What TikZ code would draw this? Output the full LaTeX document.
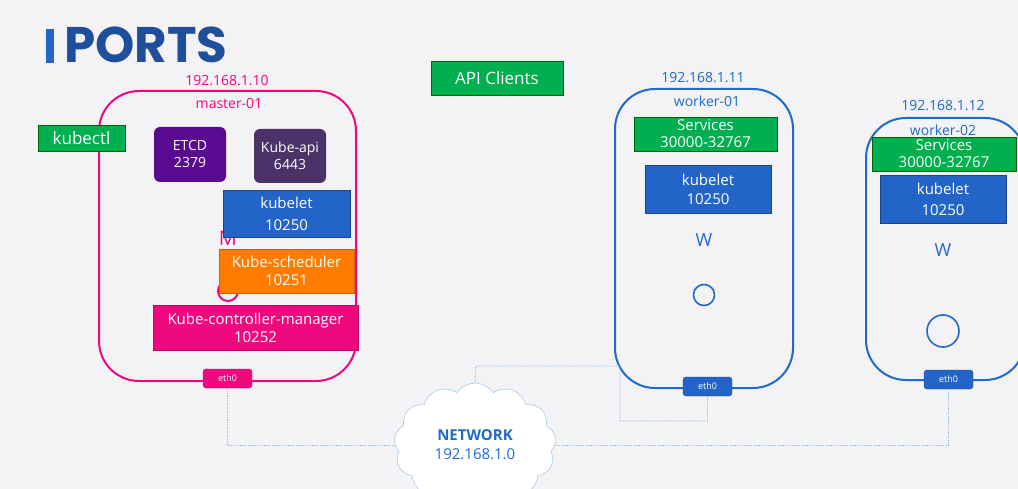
\documentclass[tikz,border=0pt]{standalone}
\usepackage{fontspec}
\setmainfont{Open Sans}
\newfontfamily\titlefont{Poppins}
\usetikzlibrary{shapes.symbols}
\definecolor{bg}{HTML}{F3F3F5}
\definecolor{mpink}{HTML}{F0087F}
\definecolor{wblue}{HTML}{1F6ACB}
\definecolor{kblue}{HTML}{2364C8}
\definecolor{sgreen}{HTML}{00B050}
\definecolor{etcdpurple}{HTML}{5A0A90}
\definecolor{apipurple}{HTML}{4B3369}
\definecolor{sorange}{HTML}{FF7C00}
\definecolor{titleblue}{HTML}{1F4E9A}
\definecolor{netblue}{HTML}{8DB8E4}
\begin{document}
\begin{tikzpicture}[x=1pt,y=-1pt,
  box/.style={rectangle,text=white,align=center,inner sep=0pt,font=\fontsize{14}{17}\selectfont},
  node host/.style={rectangle,rounded corners=40pt,line width=2pt,inner sep=0pt},
  eth/.style={rectangle,rounded corners=3pt,text=white,inner sep=0pt,minimum width=49pt,minimum height=19pt,font=\fontsize{9}{10}\selectfont},
  netline/.style={netblue,line width=0.8pt,dash pattern=on 1.2pt off 1.2pt}]
\useasboundingbox[fill=bg] (0,0) rectangle (1018,489);

% title
\node[fill=kblue,minimum width=8pt,minimum height=34pt,inner sep=0pt] (BAR) at (50,46) {};
\node[anchor=base west,inner sep=0pt,text depth=0pt,text=titleblue,font=\titlefont\bfseries\fontsize{50}{50}\selectfont] (TITLE) at (64,63) {PORTS};

% master
\node[node host,draw=mpink,minimum width=257pt,minimum height=290pt] (M) at (227.5,236) {};
\node[text=mpink,font=\fontsize{14}{16}\selectfont] (MIP) at (227,81) {192.168.1.10};
\node[text=mpink,font=\fontsize{14}{16}\selectfont] (MNAME) at (229,103) {master-01};
\node[text=mpink,font=\fontsize{20}{20}\selectfont] (MLETTER) at (228,238) {M};
\node[draw=mpink,circle,line width=2pt,minimum size=20pt,inner sep=0pt] (MDOT) at (228,291) {};
\node[box,fill=sgreen,draw=green!40!black,minimum width=87pt,minimum height=26pt,font=\fontsize{17}{20}\selectfont] (KCTL) at (81.5,138) {kubectl};
\node[box,fill=etcdpurple,rounded corners=6pt,minimum width=72pt,minimum height=55pt] (ETCD) at (190,154.5) {ETCD\\2379};
\node[box,fill=apipurple,rounded corners=6pt,minimum width=72pt,minimum height=54pt] (API) at (290,156) {Kube-api\\6443};
\node[box,fill=kblue,draw=kblue!70!black,minimum width=127pt,minimum height=47pt,font=\fontsize{15}{22}\selectfont] (MKLT) at (286.5,213.5) {kubelet\\10250};
\node[box,fill=sorange,draw=sorange!80!black,minimum width=135pt,minimum height=44pt,font=\fontsize{15}{18}\selectfont] (SCHED) at (286.5,271) {Kube-scheduler\\10251};
\node[box,fill=mpink,draw=mpink!80!black,minimum width=205pt,minimum height=45pt,font=\fontsize{15}{18}\selectfont] (CM) at (255.5,327.5) {Kube-controller-manager\\10252};
\node[eth,fill=mpink,draw=mpink!80!black] (METH) at (227.5,378.5) {eth0};

% clients
\node[box,fill=sgreen,draw=green!40!black,minimum width=132pt,minimum height=34pt,font=\fontsize{17}{20}\selectfont] (CLIENTS) at (497,78) {API Clients};

% worker-01
\node[node host,draw=wblue,minimum width=178pt,minimum height=299pt] (W1) at (704,238.5) {};
\node[text=wblue,font=\fontsize{14}{16}\selectfont] (W1IP) at (703,78) {192.168.1.11};
\node[text=wblue,font=\fontsize{14}{16}\selectfont] (W1NAME) at (707,101) {worker-01};
\node[box,fill=sgreen,draw=green!40!black,minimum width=143pt,minimum height=34pt,font=\fontsize{15}{17}\selectfont] (W1SVC) at (705.5,134) {Services\\30000-32767};
\node[box,fill=kblue,draw=kblue!70!black,minimum width=126pt,minimum height=48pt,font=\fontsize{15}{19}\selectfont] (W1KLT) at (708,189) {kubelet\\10250};
\node[text=wblue,font=\fontsize{18}{18}\selectfont] (W1LETTER) at (704,240) {W};
\node[draw=wblue,circle,line width=1.6pt,minimum size=21pt,inner sep=0pt] (W1DOT) at (704,295) {};
\node[eth,fill=kblue,draw=kblue!70!black] (W1ETH) at (707.5,386.5) {eth0};

% worker-02
\node[node host,draw=wblue,minimum width=159pt,minimum height=262pt] (W2) at (945.5,249) {};
\node[text=wblue,font=\fontsize{14}{16}\selectfont] (W2IP) at (943,106) {192.168.1.12};
\node[text=wblue,font=\fontsize{14}{16}\selectfont] (W2NAME) at (943,130) {worker-02};
\node[box,fill=sgreen,draw=green!40!black,minimum width=144pt,minimum height=34pt,font=\fontsize{15}{17}\selectfont] (W2SVC) at (944,154) {Services\\30000-32767};
\node[box,fill=kblue,draw=kblue!70!black,minimum width=126pt,minimum height=48pt,font=\fontsize{15}{21}\selectfont] (W2KLT) at (943,199) {kubelet\\10250};
\node[text=wblue,font=\fontsize{18}{18}\selectfont] (W2LETTER) at (943,250) {W};
\node[draw=wblue,circle,line width=1.6pt,minimum size=32pt,inner sep=0pt] (W2DOT) at (943,331) {};
\node[eth,fill=kblue,draw=kblue!70!black] (W2ETH) at (948.5,379.5) {eth0};

% network
\node[cloud,cloud puffs=13,cloud puff arc=110,aspect=1.3,draw=netblue,fill=white,align=center,inner sep=0pt,minimum width=162pt,minimum height=124pt,text=wblue,font=\fontsize{15}{19}\selectfont] (NET) at (475,445) {\textbf{NETWORK}\\192.168.1.0};
\coordinate (J1) at (620,421);
\coordinate (J2) at (476,366);
\draw[netline] (METH.south) |- (NET.west);
\draw[netline] (W2ETH.south) |- (NET.east);
\draw[netline] (W1ETH.south) |- (J1) |- (J2) -- (NET.north);
\end{tikzpicture}
\end{document}
